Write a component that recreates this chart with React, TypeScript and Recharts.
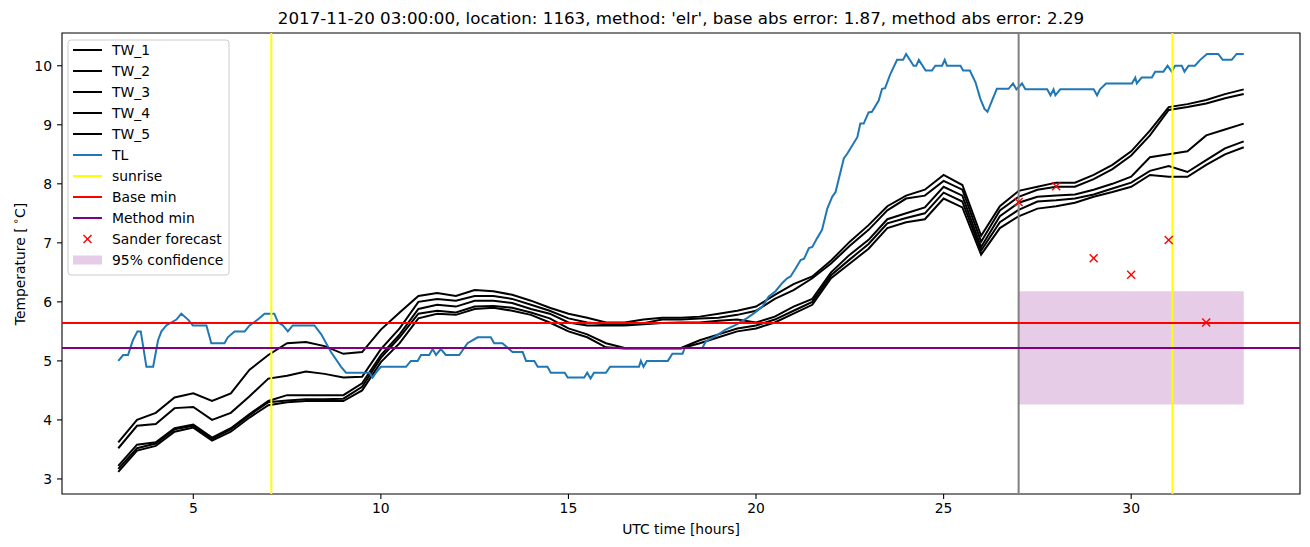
import { ComposedChart, Line, Scatter, XAxis, YAxis, ReferenceLine, ReferenceArea } from "recharts";

// half-hour grid used for the five water temperature sensors
const twHours = [
  3, 3.5, 4, 4.5, 5, 5.5, 6, 6.5, 7, 7.5, 8, 8.5, 9, 9.5, 10, 10.5, 11, 11.5, 12, 12.5,
  13, 13.5, 14, 14.5, 15, 15.5, 16, 16.5, 17, 17.5, 18, 18.5, 19, 19.5, 20, 20.5, 21, 21.5,
  22, 22.5, 23, 23.5, 24, 24.5, 25, 25.5, 26, 26.5, 27, 27.5, 28, 28.5, 29, 29.5, 30, 30.5,
  31, 31.5, 32, 32.5, 33,
];

const tw1 = [
  3.62, 4.0, 4.12, 4.38, 4.45, 4.32, 4.45, 4.85, 5.1, 5.3, 5.32, 5.25, 5.12, 5.15, 5.53, 5.82,
  6.1, 6.15, 6.1, 6.2, 6.18, 6.12, 6.02, 5.9, 5.8, 5.73, 5.65, 5.65, 5.7, 5.73, 5.73, 5.75,
  5.8, 5.85, 5.92, 6.12, 6.3, 6.43, 6.7, 7.02, 7.3, 7.62, 7.8, 7.9, 8.15, 7.98, 7.12, 7.62,
  7.88, 7.95, 8.02, 8.02, 8.15, 8.32, 8.55, 8.9, 9.3, 9.35, 9.42, 9.52, 9.6,
];
const tw2 = [
  3.52, 3.9, 3.93, 4.2, 4.22, 4.0, 4.12, 4.4, 4.7, 4.75, 4.82, 4.78, 4.72, 4.73, 5.2, 5.55,
  6.0, 6.05, 6.02, 6.1, 6.1, 6.05, 5.95, 5.85, 5.72, 5.65, 5.62, 5.62, 5.64, 5.7, 5.7, 5.72,
  5.73, 5.78, 5.85, 6.05, 6.2, 6.4, 6.65, 6.95, 7.22, 7.55, 7.75, 7.8, 8.05, 7.9, 7.02, 7.55,
  7.78, 7.9, 7.95, 7.95, 8.08, 8.25, 8.48, 8.82, 9.25, 9.3, 9.36, 9.45, 9.52,
];
const tw3 = [
  3.22, 3.58, 3.62, 3.86, 3.92, 3.7, 3.86, 4.1, 4.32, 4.42, 4.42, 4.42, 4.42, 4.62, 5.1, 5.45,
  5.88, 5.95, 5.92, 6.02, 6.02, 5.98, 5.88, 5.8, 5.65, 5.6, 5.6, 5.6, 5.62, 5.64, 5.65, 5.65,
  5.68, 5.7, 5.65, 5.75, 5.92, 6.05, 6.5, 6.8, 7.05, 7.4, 7.5, 7.6, 7.95, 7.8, 6.93, 7.45,
  7.68, 7.78, 7.8, 7.82, 7.9, 8.0, 8.12, 8.45, 8.5, 8.55, 8.82, 8.92, 9.02,
];
const tw4 = [
  3.17, 3.52, 3.6, 3.84, 3.9, 3.68, 3.84, 4.08, 4.3, 4.33, 4.35, 4.35, 4.36, 4.56, 5.05, 5.4,
  5.8, 5.85, 5.82, 5.92, 5.93, 5.9, 5.82, 5.72, 5.55, 5.45, 5.3, 5.22, 5.22, 5.22, 5.22, 5.35,
  5.45, 5.55, 5.6, 5.7, 5.85, 6.0, 6.45, 6.72, 6.98, 7.33, 7.42, 7.5, 7.85, 7.7, 6.87, 7.35,
  7.56, 7.7, 7.72, 7.75, 7.82, 7.92, 8.02, 8.22, 8.3, 8.2, 8.4, 8.6, 8.72,
];
const tw5 = [
  3.12, 3.48, 3.56, 3.8, 3.87, 3.65, 3.8, 4.04, 4.25, 4.3, 4.32, 4.32, 4.32, 4.5, 4.98, 5.3,
  5.72, 5.8, 5.78, 5.88, 5.9, 5.85, 5.78, 5.65, 5.5, 5.4, 5.23, 5.21, 5.21, 5.21, 5.21, 5.3,
  5.4, 5.5, 5.55, 5.65, 5.8, 5.95, 6.4, 6.65, 6.9, 7.25, 7.35, 7.4, 7.75, 7.6, 6.8, 7.25,
  7.45, 7.58, 7.62, 7.68, 7.78, 7.86, 7.95, 8.15, 8.12, 8.12, 8.32, 8.5, 8.62,
];

// air temperature
const tlHours = [
  3.0, 3.13, 3.26, 3.39, 3.51, 3.6, 3.75, 3.93, 4.06, 4.15, 4.28, 4.55, 4.68, 4.86, 4.99, 5.35,
  5.48, 5.83, 5.92, 6.1, 6.37, 6.5, 6.72, 6.9, 7.16, 7.26, 7.39, 7.52, 7.65, 8.23, 8.41, 8.67,
  8.94, 9.07, 9.69, 9.78, 9.87, 10.0, 10.67, 10.8, 10.98, 11.07, 11.29, 11.38, 11.47, 11.6,
  11.73, 12.09, 12.31, 12.58, 12.93, 13.02, 13.24, 13.51, 13.78, 13.87, 14.09, 14.18, 14.44,
  14.53, 14.9, 14.98, 15.42, 15.5, 15.59, 15.68, 16.0, 16.11, 16.88, 16.93, 17.0, 17.09, 17.65,
  17.77, 18.04, 18.1, 18.57, 18.66, 18.92, 19.19, 19.46, 19.77, 19.95, 20.17, 20.34, 20.52,
  20.7, 20.83, 20.92, 21.05, 21.19, 21.28, 21.41, 21.5, 21.63, 21.76, 21.9, 22.03, 22.12, 22.34,
  22.43, 22.7, 22.78, 22.87, 23.0, 23.09, 23.27, 23.36, 23.44, 23.58, 23.76, 23.92, 24.0, 24.2,
  24.27, 24.34, 24.52, 24.69, 24.78, 24.96, 25.03, 25.09, 25.45, 25.52, 25.7, 25.85, 25.98,
  26.09, 26.17, 26.29, 26.42, 26.73, 26.85, 26.94, 27.09, 27.18, 27.76, 27.85, 27.93, 27.98,
  28.11, 29.0, 29.09, 29.17, 29.33, 30.02, 30.11, 30.15, 30.28, 30.55, 30.64, 30.86, 30.97,
  31.08, 31.17, 31.35, 31.42, 31.53, 31.7, 31.84, 32.02, 32.32, 32.44, 32.68, 32.81, 33.0,
];
const tlValues = [
  5.0, 5.1, 5.1, 5.35, 5.5, 5.5, 4.9, 4.9, 5.35, 5.5, 5.6, 5.7, 5.8, 5.7, 5.6, 5.6,
  5.3, 5.3, 5.4, 5.5, 5.5, 5.6, 5.7, 5.8, 5.8, 5.65, 5.6, 5.5, 5.6, 5.6, 5.45, 5.15,
  4.9, 4.8, 4.8, 4.72, 4.8, 4.9, 4.9, 5.0, 5.0, 5.1, 5.1, 5.2, 5.1, 5.2,
  5.1, 5.1, 5.3, 5.4, 5.4, 5.3, 5.3, 5.15, 5.15, 5.0, 5.0, 4.9, 4.9,
  4.8, 4.8, 4.72, 4.72, 4.8, 4.7, 4.8, 4.8, 4.9, 4.9, 5.0, 4.9, 5.0, 5.0,
  5.12, 5.12, 5.22, 5.22, 5.33, 5.42, 5.53, 5.61, 5.73, 5.81, 5.92, 6.09, 6.18,
  6.32, 6.4, 6.43, 6.56, 6.71, 6.73, 6.91, 6.93, 7.08, 7.22, 7.58, 7.78, 7.86, 8.43,
  8.51, 8.79, 9.02, 9.02, 9.21, 9.22, 9.41, 9.61, 9.62, 9.86, 10.1, 10.1, 10.2, 10.0,
  10.0, 10.1, 9.92, 9.92, 10.0, 10.0, 10.1, 10.0, 10.0, 9.92, 9.92, 9.72, 9.44,
  9.27, 9.22, 9.41, 9.61, 9.61, 9.7, 9.6, 9.7, 9.6, 9.6, 9.5, 9.6, 9.5,
  9.6, 9.6, 9.5, 9.6, 9.7, 9.7, 9.8, 9.7, 9.8, 9.8, 9.9, 9.9, 10.0,
  9.9, 10.0, 10.0, 9.9, 10.0, 10.0, 10.1, 10.2, 10.2, 10.1, 10.1, 10.2, 10.2,
];

const sanderHours = [27, 28, 29, 30, 31, 32];
const sanderValues = [7.69, 7.96, 6.74, 6.46, 7.05, 5.65];

const sunriseHours = [7.08, 31.1];
const forecastHour = 27;
const baseMin = 5.64;
const methodMin = 5.22;
const confidenceHours = [27, 33];
const confidenceRange = [4.26, 6.18];

const xTicks = [5, 10, 15, 20, 25, 30];
const yTicks = [3, 4, 5, 6, 7, 8, 9, 10];
const xDomain = [1.5, 34.5];
const yDomain = [2.745, 10.555];

const FONT = "'DejaVu Sans', sans-serif";
const LW = 2;

const toPoints = (xs: number[], ys: number[]) => xs.map((x, i) => ({ x, y: ys[i] }));
const twSeries = [tw1, tw2, tw3, tw4, tw5].map((vals) => toPoints(twHours, vals));
const tlData = toPoints(tlHours, tlValues);
const sanderData = toPoints(sanderHours, sanderValues);

const Cross = (props: any) => {
  const { cx, cy } = props;
  if (cx == null || cy == null) return null;
  const r = 4;
  return (
    <g stroke="#ff0000" strokeWidth={1.4}>
      <line x1={cx - r} y1={cy - r} x2={cx + r} y2={cy + r} />
      <line x1={cx - r} y1={cy + r} x2={cx + r} y2={cy - r} />
    </g>
  );
};

const legendItems = [
  { label: "TW_1", kind: "line", color: "#000000" },
  { label: "TW_2", kind: "line", color: "#000000" },
  { label: "TW_3", kind: "line", color: "#000000" },
  { label: "TW_4", kind: "line", color: "#000000" },
  { label: "TW_5", kind: "line", color: "#000000" },
  { label: "TL", kind: "line", color: "#1f77b4" },
  { label: "sunrise", kind: "line", color: "#ffff00" },
  { label: "Base min", kind: "line", color: "#ff0000" },
  { label: "Method min", kind: "line", color: "#800080" },
  { label: "Sander forecast", kind: "cross", color: "#ff0000" },
  { label: "95% confidence", kind: "patch", color: "#800080" },
];

const LegendBox = () => (
  <svg
    width={164}
    height={238}
    style={{ position: "absolute", left: 67, top: 39, fontFamily: FONT }}
  >
    <rect x={1} y={1} width={161} height={235} rx={3} fill="#ffffff" fillOpacity={0.8} stroke="#cccccc" />
    {legendItems.map((item, i) => {
      const cy = 11 + i * 21;
      return (
        <g key={item.label}>
          {item.kind === "line" && (
            <line x1={6} x2={35} y1={cy} y2={cy} stroke={item.color} strokeWidth={LW} />
          )}
          {item.kind === "cross" && <Cross cx={20.5} cy={cy} />}
          {item.kind === "patch" && (
            <rect x={6} y={cy - 4.5} width={29} height={9} fill={item.color} fillOpacity={0.2} />
          )}
          <text x={45} y={cy} dominantBaseline="central" fontSize={13.9} fill="#000">
            {item.label}
          </text>
        </g>
      );
    })}
  </svg>
);

export default function App() {
  return (
    <div
      style={{
        position: "absolute",
        left: 0,
        top: 0,
        width: 1310,
        height: 547,
        background: "#fff",
        fontFamily: FONT,
      }}
    >
      <ComposedChart width={1310} height={547} margin={{ top: 33, right: 10, bottom: 0, left: 0 }}>
        <XAxis
          type="number"
          dataKey="x"
          domain={xDomain}
          ticks={xTicks}
          allowDataOverflow
          height={53}
          axisLine={false}
          tickSize={5}
          tickMargin={4}
          tickLine={{ stroke: "#000", strokeWidth: 1.1 }}
          tick={{ fill: "#000", fontSize: 13.9, fontFamily: FONT }}
        />
        <YAxis
          type="number"
          dataKey="y"
          domain={yDomain}
          ticks={yTicks}
          allowDataOverflow
          width={62}
          axisLine={false}
          tickSize={5}
          tickMargin={5}
          tickLine={{ stroke: "#000", strokeWidth: 1.1 }}
          tick={{ fill: "#000", fontSize: 13.9, fontFamily: FONT }}
        />
        <ReferenceArea
          x1={confidenceHours[0]}
          x2={confidenceHours[1]}
          y1={confidenceRange[0]}
          y2={confidenceRange[1]}
          fill="#800080"
          fillOpacity={0.2}
          stroke="none"
        />
        {twSeries.map((data, i) => (
          <Line
            key={`tw${i}`}
            data={data}
            dataKey="y"
            type="linear"
            stroke="#000000"
            strokeWidth={LW}
            dot={false}
            activeDot={false}
            isAnimationActive={false}
          />
        ))}
        <Line
          data={tlData}
          dataKey="y"
          type="linear"
          stroke="#1f77b4"
          strokeWidth={LW}
          dot={false}
          activeDot={false}
          isAnimationActive={false}
        />
        {sunriseHours.map((h) => (
          <ReferenceLine key={h} x={h} stroke="#ffff00" strokeWidth={LW} />
        ))}
        <ReferenceLine x={forecastHour} stroke="#808080" strokeWidth={LW} />
        <ReferenceLine y={baseMin} stroke="#ff0000" strokeWidth={LW} />
        <ReferenceLine y={methodMin} stroke="#800080" strokeWidth={LW} />
        <Scatter data={sanderData} dataKey="y" shape={<Cross />} isAnimationActive={false} />
        <ReferenceArea
          x1={xDomain[0]}
          x2={xDomain[1]}
          y1={yDomain[0]}
          y2={yDomain[1]}
          fill="none"
          stroke="#000000"
          strokeWidth={1.1}
        />
      </ComposedChart>

      <div
        style={{
          position: "absolute",
          left: 62,
          top: 8,
          width: 1238,
          textAlign: "center",
          fontSize: 16.7,
          lineHeight: "20px",
          color: "#000",
          whiteSpace: "nowrap",
        }}
      >
        2017-11-20 03:00:00, location: 1163, method: 'elr', base abs error: 1.87, method abs error: 2.29
      </div>

      <div
        style={{
          position: "absolute",
          left: 62,
          top: 521,
          width: 1238,
          textAlign: "center",
          fontSize: 13.9,
          lineHeight: "16px",
          color: "#000",
        }}
      >
        UTC time [hours]
      </div>

      <div
        style={{
          position: "absolute",
          left: 18,
          top: 264,
          transform: "translate(-50%, -50%) rotate(-90deg)",
          fontSize: 13.9,
          lineHeight: "16px",
          whiteSpace: "nowrap",
          color: "#000",
        }}
      >
        Temperature [<sup style={{ fontSize: 10, verticalAlign: "6px" }}> ∘</sup>C]
      </div>

      <LegendBox />
    </div>
  );
}
